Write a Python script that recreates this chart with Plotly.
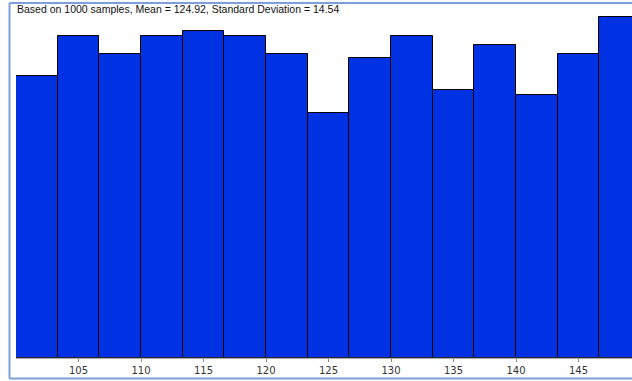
import plotly.graph_objects as go

# Histogram of 1000 samples, 15 bins of width 10/3 spanning 100..150
bin_lower = [100.0, 103.333, 106.667, 110.0, 113.333, 116.667, 120.0, 123.333,
             126.667, 130.0, 133.333, 136.667, 140.0, 143.333, 146.667]
bin_width = 10 / 3
counts = [62, 71, 67, 71, 72, 71, 67, 54, 66, 71, 59, 69, 58, 67, 75]
tick_values = [105, 110, 115, 120, 125, 130, 135, 140, 145]
title_text = "Based on 1000 samples, Mean = 124.92, Standard Deviation = 14.54"

W, H = 632, 381
ML, MR, MT, MB = 16, 0, 4, 23
plot_w = W - ML - MR
plot_h = H - MT - MB


def px_x(px):
    return (px - ML) / plot_w


def px_y(py):
    return (H - MB - py) / plot_h


centers = [b + bin_width / 2 for b in bin_lower]

fig = go.Figure(
    go.Bar(
        x=centers,
        y=counts,
        width=bin_width,
        marker=dict(color="rgb(0,50,228)", line=dict(color="black", width=1)),
        hoverinfo="x+y",
    )
)

frame = "#7ba0dc"
fig.update_layout(
    width=W,
    height=H,
    margin=dict(l=ML, r=MR, t=MT, b=MB, pad=0),
    paper_bgcolor="white",
    plot_bgcolor="white",
    showlegend=False,
    bargap=0,
    xaxis=dict(
        range=[100, 100 + plot_w / 12.5],
        tickvals=tick_values,
        ticks="outside",
        ticklen=3,
        tickcolor="#888888",
        tickfont=dict(family="DejaVu Sans", size=10, color="#333333"),
        showgrid=False,
        zeroline=False,
        showline=False,
        fixedrange=True,
    ),
    yaxis=dict(
        range=[0, 77.94],
        showticklabels=False,
        showgrid=False,
        zeroline=False,
        showline=False,
        fixedrange=True,
    ),
    annotations=[
        dict(
            text=title_text,
            xref="paper", yref="paper",
            x=px_x(15), y=px_y(9),
            xanchor="left", yanchor="middle",
            showarrow=False,
            font=dict(family="Liberation Sans", size=10.5, color="#111111"),
        )
    ],
    shapes=[
        # group-box frame around the chart
        dict(type="line", xref="paper", yref="paper",
             x0=px_x(9.5), x1=px_x(632), y0=px_y(3), y1=px_y(3),
             line=dict(color=frame, width=2)),
        dict(type="line", xref="paper", yref="paper",
             x0=px_x(9.5), x1=px_x(9.5), y0=px_y(3), y1=px_y(378.5),
             line=dict(color=frame, width=2)),
        dict(type="line", xref="paper", yref="paper",
             x0=px_x(9.5), x1=px_x(632), y0=px_y(378.5), y1=px_y(378.5),
             line=dict(color=frame, width=2)),
        # dark baseline under the bars
        dict(type="line", xref="paper", yref="paper",
             x0=0, x1=1, y0=0, y1=0,
             line=dict(color="#555555", width=1)),
    ],
)

fig.write_html("out.html")
